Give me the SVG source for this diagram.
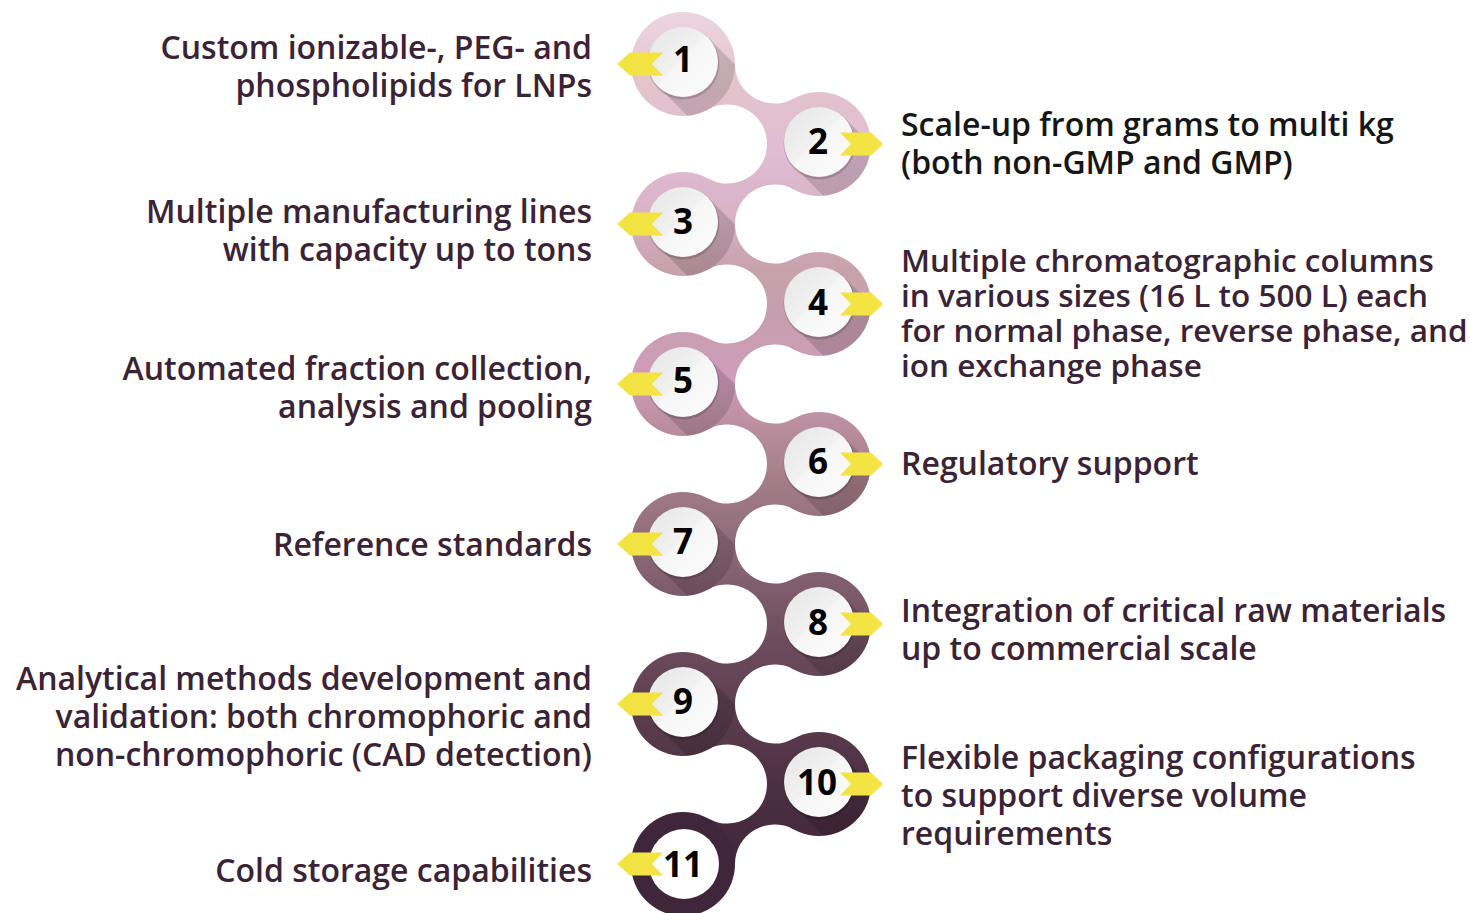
<svg xmlns="http://www.w3.org/2000/svg" xmlns:xlink="http://www.w3.org/1999/xlink" width="1470" height="913" viewBox="0 0 1470 913">
<defs>
<linearGradient id="g" gradientUnits="userSpaceOnUse" x1="0" y1="12" x2="0" y2="917">
<stop offset="0" stop-color="#ecd5df"/>
<stop offset="0.086" stop-color="#e3c3cc"/>
<stop offset="0.152" stop-color="#e0bdd3"/>
<stop offset="0.224" stop-color="#d9b2c6"/>
<stop offset="0.285" stop-color="#c7a1ab"/>
<stop offset="0.34" stop-color="#c69fae"/>
<stop offset="0.406" stop-color="#d09cbb"/>
<stop offset="0.462" stop-color="#b98d9c"/>
<stop offset="0.517" stop-color="#a47d89"/>
<stop offset="0.589" stop-color="#8e6a78"/>
<stop offset="0.677" stop-color="#715161"/>
<stop offset="0.766" stop-color="#5d3f4f"/>
<stop offset="0.854" stop-color="#4c3042"/>
<stop offset="0.943" stop-color="#41273b"/>
<stop offset="1" stop-color="#3c2236"/>
</linearGradient>
<linearGradient id="w" x1="0" y1="0" x2="1" y2="1">
<stop offset="0" stop-color="#e6e6e6"/>
<stop offset="0.45" stop-color="#f1f1f1"/>
<stop offset="0.5" stop-color="#f7f7f7"/>
<stop offset="1" stop-color="#fbfbfb"/>
</linearGradient>
<clipPath id="oc"><circle cx="0" cy="0" r="52"/></clipPath>
<polygon id="sh" points="24.7,-26.7 124.7,73.3 75.3,122.7 -24.7,22.7"/>
<polygon id="al" points="-20,-11.5 -53,-11.5 -66,0 -53,11.5 -20,11.5 -31,0"/>
<polygon id="ar" points="21,-11.5 52,-11.5 64,0 52,11.5 21,11.5 32,0"/>
<g id="inner">
<circle cx="0.5" cy="-0.5" r="36" fill="#000" opacity="0.16"/>
<circle cx="0" cy="-2" r="35" fill="url(#w)"/>
</g>
</defs>
<style>
.ring{fill:url(#g)}
.shadow{fill:#000;opacity:0.14}
.arrow{fill:#f3e444}
.num{font-family:"Open Sans","DejaVu Sans",sans-serif;font-weight:700;font-size:35px;fill:#000;text-anchor:middle}
.lbl{font-family:"Open Sans","DejaVu Sans",sans-serif;font-weight:600;font-size:32px;fill:#3b2336}
.sm{font-size:31.5px}
.l{text-anchor:end}
.r{text-anchor:start}
.dk{fill:#161616}
</style>
<rect width="1470" height="913" fill="#fff"/>
<g id="connectors" class="ring">
<path d="M735,64 A39.5,39.5 0 0 0 793.7,98.6 L819,144 L767,144 A39.5,39.5 0 0 0 708.3,109.4 L683,64 Z"/>
<path d="M767,144 A39.5,39.5 0 0 1 708.3,178.6 L683,224 L735,224 A39.5,39.5 0 0 1 793.7,189.4 L819,144 Z"/>
<path d="M735,224 A39.5,39.5 0 0 0 793.7,258.6 L819,304 L767,304 A39.5,39.5 0 0 0 708.3,269.4 L683,224 Z"/>
<path d="M767,304 A39.5,39.5 0 0 1 708.3,338.6 L683,384 L735,384 A39.5,39.5 0 0 1 793.7,349.4 L819,304 Z"/>
<path d="M735,384 A39.5,39.5 0 0 0 793.7,418.6 L819,464 L767,464 A39.5,39.5 0 0 0 708.3,429.4 L683,384 Z"/>
<path d="M767,464 A39.5,39.5 0 0 1 708.3,498.6 L683,544 L735,544 A39.5,39.5 0 0 1 793.7,509.4 L819,464 Z"/>
<path d="M735,544 A39.5,39.5 0 0 0 793.7,578.6 L819,624 L767,624 A39.5,39.5 0 0 0 708.3,589.4 L683,544 Z"/>
<path d="M767,624 A39.5,39.5 0 0 1 708.3,658.6 L683,704 L735,704 A39.5,39.5 0 0 1 793.7,669.4 L819,624 Z"/>
<path d="M735,704 A39.5,39.5 0 0 0 793.7,738.6 L819,784 L767,784 A39.5,39.5 0 0 0 708.3,749.4 L683,704 Z"/>
<path d="M767,784 A39.5,39.5 0 0 1 708.3,818.6 L683,864 L735,864 A39.5,39.5 0 0 1 793.7,829.4 L819,784 Z"/>
</g>
<g id="node1">
<circle class="ring" cx="683" cy="64" r="52"/>
<g transform="translate(683,64)"><g clip-path="url(#oc)"><use xlink:href="#sh" class="shadow"/></g><use xlink:href="#inner"/><use xlink:href="#al" class="arrow"/></g>
<text class="num" x="683" y="72">1</text>
<text class="lbl l"><tspan x="592" y="59">Custom ionizable-, PEG- and</tspan><tspan x="592" y="97">phospholipids for LNPs</tspan></text>
</g>
<g id="node2">
<circle class="ring" cx="819" cy="144" r="52"/>
<g transform="translate(819,144)"><g clip-path="url(#oc)"><use xlink:href="#sh" class="shadow"/></g><use xlink:href="#inner"/><use xlink:href="#ar" class="arrow"/></g>
<text class="num" x="818" y="154">2</text>
<text class="lbl r dk"><tspan x="901" y="136">Scale-up from grams to multi kg</tspan><tspan x="901" y="174">(both non-GMP and GMP)</tspan></text>
</g>
<g id="node3">
<circle class="ring" cx="683" cy="224" r="52"/>
<g transform="translate(683,224)"><g clip-path="url(#oc)"><use xlink:href="#sh" class="shadow"/></g><use xlink:href="#inner"/><use xlink:href="#al" class="arrow"/></g>
<text class="num" x="683" y="234">3</text>
<text class="lbl l"><tspan x="592" y="223">Multiple manufacturing lines</tspan><tspan x="592" y="261">with capacity up to tons</tspan></text>
</g>
<g id="node4">
<circle class="ring" cx="819" cy="304" r="52"/>
<g transform="translate(819,304)"><g clip-path="url(#oc)"><use xlink:href="#sh" class="shadow"/></g><use xlink:href="#inner"/><use xlink:href="#ar" class="arrow"/></g>
<text class="num" x="818" y="315">4</text>
<text class="lbl sm r"><tspan x="901" y="272">Multiple chromatographic columns</tspan><tspan x="901" y="307">in various sizes (16 L to 500 L) each</tspan><tspan x="901" y="342">for normal phase, reverse phase, and</tspan><tspan x="901" y="377">ion exchange phase</tspan></text>
</g>
<g id="node5">
<circle class="ring" cx="683" cy="384" r="52"/>
<g transform="translate(683,384)"><g clip-path="url(#oc)"><use xlink:href="#sh" class="shadow"/></g><use xlink:href="#inner"/><use xlink:href="#al" class="arrow"/></g>
<text class="num" x="683" y="393">5</text>
<text class="lbl l"><tspan x="592" y="380">Automated fraction collection,</tspan><tspan x="592" y="418">analysis and pooling</tspan></text>
</g>
<g id="node6">
<circle class="ring" cx="819" cy="464" r="52"/>
<g transform="translate(819,464)"><g clip-path="url(#oc)"><use xlink:href="#sh" class="shadow"/></g><use xlink:href="#inner"/><use xlink:href="#ar" class="arrow"/></g>
<text class="num" x="818" y="474">6</text>
<text class="lbl r" x="901" y="475">Regulatory support</text>
</g>
<g id="node7">
<circle class="ring" cx="683" cy="544" r="52"/>
<g transform="translate(683,544)"><g clip-path="url(#oc)"><use xlink:href="#sh" class="shadow"/></g><use xlink:href="#inner"/><use xlink:href="#al" class="arrow"/></g>
<text class="num" x="683" y="554">7</text>
<text class="lbl l" x="592" y="556">Reference standards</text>
</g>
<g id="node8">
<circle class="ring" cx="819" cy="624" r="52"/>
<g transform="translate(819,624)"><g clip-path="url(#oc)"><use xlink:href="#sh" class="shadow"/></g><use xlink:href="#inner"/><use xlink:href="#ar" class="arrow"/></g>
<text class="num" x="818" y="635">8</text>
<text class="lbl r"><tspan x="901" y="622">Integration of critical raw materials</tspan><tspan x="901" y="660">up to commercial scale</tspan></text>
</g>
<g id="node9">
<circle class="ring" cx="683" cy="704" r="52"/>
<g transform="translate(683,704)"><g clip-path="url(#oc)"><use xlink:href="#sh" class="shadow"/></g><use xlink:href="#inner"/><use xlink:href="#al" class="arrow"/></g>
<text class="num" x="683" y="714">9</text>
<text class="lbl l"><tspan x="592" y="690">Analytical methods development and</tspan><tspan x="592" y="728">validation: both chromophoric and</tspan><tspan x="592" y="766">non-chromophoric (CAD detection)</tspan></text>
</g>
<g id="node10">
<circle class="ring" cx="819" cy="784" r="52"/>
<g transform="translate(819,784)"><g clip-path="url(#oc)"><use xlink:href="#sh" class="shadow"/></g><use xlink:href="#inner"/><use xlink:href="#ar" class="arrow"/></g>
<text class="num" x="817" y="795">10</text>
<text class="lbl r"><tspan x="901" y="769">Flexible packaging configurations</tspan><tspan x="901" y="807">to support diverse volume</tspan><tspan x="901" y="845">requirements</tspan></text>
</g>
<g id="node11">
<circle cx="683" cy="864" r="52" fill="#40263b"/>
<circle cx="684" cy="864" r="35" fill="#fff"/>
<use xlink:href="#al" class="arrow" transform="translate(683,864)"/>
<text class="num" x="683" y="877">11</text>
<text class="lbl l" x="592" y="882">Cold storage capabilities</text>
</g>
</svg>
